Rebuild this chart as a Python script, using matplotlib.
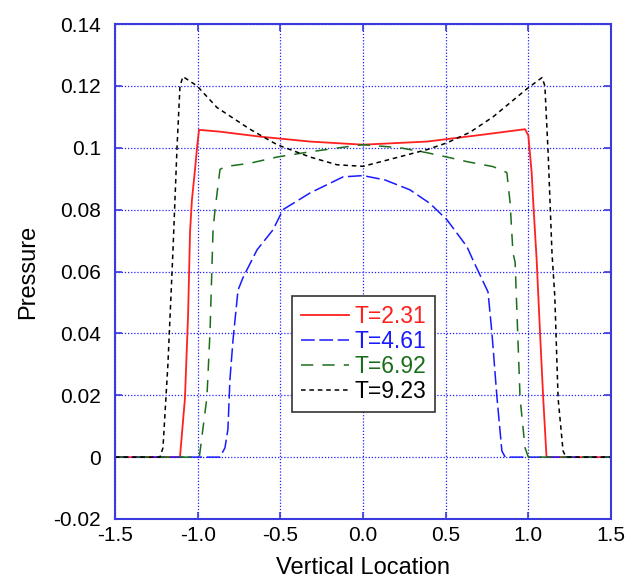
import matplotlib
matplotlib.use("Agg")
import matplotlib.pyplot as plt

plt.rcParams['font.family'] = ['Liberation Sans', 'DejaVu Sans']

red_x = [-1.5, -1.2, -1.107, -1.077, -1.058, -1.046, -1.035, -1.016, -1.004, -0.992, -0.865, -0.623, -0.32, 0.0,
         0.387, 0.69, 0.98, 1.0, 1.02, 1.03, 1.05, 1.07, 1.09, 1.11, 1.5]
red_y = [0, 0, 0, 0.019, 0.046, 0.073, 0.083, 0.093, 0.100, 0.1058, 0.1052, 0.1036, 0.102, 0.101,
         0.102, 0.104, 0.106, 0.104, 0.092, 0.082, 0.064, 0.041, 0.019, 0, 0]

blue_x = [-1.5, -0.93, -0.865, -0.835, -0.817, -0.805, -0.786, -0.756, -0.726, -0.641, -0.544, -0.484, -0.32, -0.12, 0.0,
          0.133, 0.284, 0.405, 0.508, 0.629, 0.665, 0.756, 0.78, 0.81, 0.84, 0.86, 1.5]
blue_y = [0, 0, 0, 0.003, 0.009, 0.025, 0.038, 0.054, 0.058, 0.067, 0.0735, 0.080, 0.0854, 0.0906, 0.091,
          0.0896, 0.0864, 0.082, 0.0767, 0.068, 0.0637, 0.0534, 0.040, 0.0194, 0.002, 0, 0]

green_x = [-1.5, -0.99, -0.944, -0.925, -0.907, -0.895, -0.865, -0.835, -0.684, -0.52, -0.32, -0.06, 0.0,
           0.224, 0.387, 0.508, 0.63, 0.787, 0.87, 0.89, 0.907, 0.92, 0.95, 0.98, 1.0, 1.5]
green_y = [0, 0, 0.0194, 0.041, 0.0735, 0.080, 0.093, 0.0939, 0.095, 0.097, 0.0987, 0.1006, 0.101,
           0.100, 0.0984, 0.097, 0.0955, 0.0939, 0.092, 0.082, 0.066, 0.063, 0.019, 0.003, 0, 0]

black_x = [-1.5, -1.228, -1.21, -1.18, -1.155, -1.15, -1.125, -1.107, -1.089, -1.004, -0.883, -0.684, -0.52, -0.32,
           -0.157, 0.0, 0.145, 0.387, 0.508, 0.647, 0.787, 0.99, 1.083, 1.10, 1.12, 1.143, 1.16, 1.18, 1.21, 1.228, 1.5]
black_y = [0, 0, 0.003, 0.030, 0.060, 0.066, 0.100, 0.120, 0.123, 0.120, 0.113, 0.106, 0.101, 0.097,
           0.0945, 0.094, 0.096, 0.0994, 0.1016, 0.105, 0.110, 0.119, 0.1227, 0.120, 0.098, 0.066, 0.052, 0.019, 0.002, 0, 0]

labels = ["T=2.31", "T=4.61", "T=6.92", "T=9.23"]
colors = ["#ff2020", "#1a1aff", "#1a6e1a", "#000000"]

x_ticks = [-1.5, -1.0, -0.5, 0.0, 0.5, 1.0, 1.5]
x_ticklabels = ["-1.5", "-1.0", "-0.5", "0.0", "0.5", "1.0", "1.5"]
y_ticks = [-0.02, 0, 0.02, 0.04, 0.06, 0.08, 0.1, 0.12, 0.14]
y_ticklabels = ["-0.02", "0", "0.02", "0.04", "0.06", "0.08", "0.1", "0.12", "0.14"]

fig = plt.figure(figsize=(6.4, 5.83), dpi=100)
ax = fig.add_axes([0.1797, 0.1098, 0.775, 0.849])

axis_blue = "#3a3adf"
ax.plot(red_x, red_y, color=colors[0], lw=1.3, linestyle='-', label=labels[0])
ax.plot(blue_x, blue_y, color=colors[1], lw=1.1, linestyle=(0, (9, 3)), label=labels[1])
ax.plot(green_x, green_y, color=colors[2], lw=1.1, linestyle=(0, (8, 6)), label=labels[2])
ax.plot(black_x, black_y, color=colors[3], lw=1.1, linestyle=(0, (3, 2.5)), label=labels[3])

ax.set_xlim(-1.5, 1.5)
ax.set_ylim(-0.02, 0.14)
ax.set_xticks(x_ticks)
ax.set_xticklabels(x_ticklabels)
ax.set_yticks(y_ticks)
ax.set_yticklabels(y_ticklabels)
ax.grid(True, color="#2020ff", linestyle=(0, (1, 1.5)), linewidth=0.9)
ax.set_axisbelow(True)
for s in ax.spines.values():
    s.set_color(axis_blue)
    s.set_linewidth(1.5)
ax.tick_params(direction='in', length=5, width=1.2, color=axis_blue, labelsize=15,
               top=True, right=True)
ax.tick_params(axis='x', pad=5)
ax.tick_params(axis='y', pad=10)

ax.set_xlabel("Vertical Location", fontsize=17, labelpad=9)
ax.set_ylabel("Pressure", fontsize=17, labelpad=10)

leg = ax.legend(loc='center', bbox_to_anchor=(0.501, 0.333), fontsize=16.5, frameon=True,
                fancybox=False, handlelength=2.1, handletextpad=0.22, borderpad=0.4,
                labelspacing=0.08, borderaxespad=0)
leg.get_frame().set_edgecolor("#333333")
leg.get_frame().set_linewidth(1.2)
leg.get_frame().set_alpha(1)
for t, c in zip(leg.get_texts(), colors):
    t.set_color(c)

fig.savefig("out.png", dpi=100)
